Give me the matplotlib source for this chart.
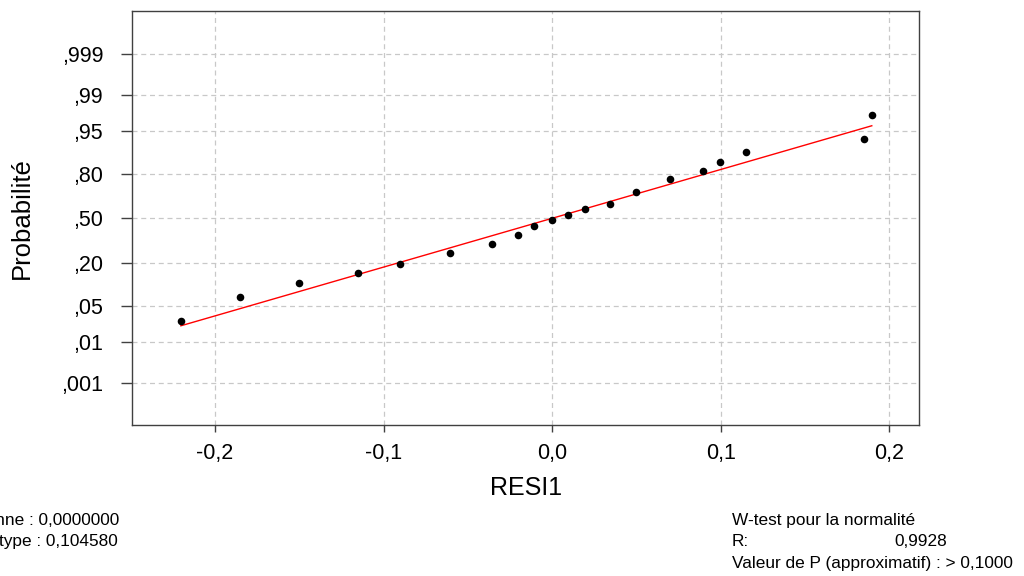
from statistics import NormalDist
import matplotlib
matplotlib.use('Agg')
import matplotlib.pyplot as plt

plt.rcParams['font.family'] = ['Liberation Sans', 'DejaVu Sans']

# residuals and their plotted probabilities
resid = [-0.2202, -0.1851, -0.1502, -0.1151, -0.0902, -0.0603, -0.0354, -0.0203,
         -0.0105, -0.0002, 0.0097, 0.0196, 0.0346, 0.0496, 0.0698, 0.0896,
         0.0998, 0.1149, 0.1849, 0.1896]
prob = [0.0268, 0.0696, 0.1109, 0.1519, 0.1936, 0.2589, 0.3166, 0.3790,
        0.4424, 0.4850, 0.5225, 0.5672, 0.6081, 0.6895, 0.7699, 0.8130,
        0.8538, 0.8927, 0.9327, 0.9742]

# fitted normal line
fit_mean = 0.0
fit_sd = 0.109

yticks_p = [0.001, 0.01, 0.05, 0.20, 0.50, 0.80, 0.95, 0.99, 0.999]
yticks_lab = [',001', ',01', ',05', ',20', ',50', ',80', ',95', ',99', ',999']
xticks = [-0.2, -0.1, 0.0, 0.1, 0.2]
xticks_lab = ['-0,2', '-0,1', '0,0', '0,1', '0,2']

left_text = ['Moyenne : 0,0000000', 'Ecart-type : 0,104580', 'N : 20']
right_title = 'W-test pour la normalité'
r_value = '0,9928'
p_text = 'Valeur de P (approximatif) : > 0,1000'

nd = NormalDist()
z = [nd.inv_cdf(p) for p in prob]

W, H = 1024, 576
fig = plt.figure(figsize=(10.24, 5.76), dpi=100)
ax = fig.add_axes([132.3 / W, 1 - 425 / H, (919 - 132.3) / W, (425 - 10.7) / H])

frame = '#404040'
ax.grid(True, color='#c8c8c8', linestyle=(0, (4, 3)), linewidth=0.9)
ax.set_axisbelow(True)

lx = [min(resid), max(resid)]
lz = [(v - fit_mean) / fit_sd for v in lx]
ax.plot(lx, lz, color='red', linewidth=1.0, zorder=2)
ax.scatter(resid, z, s=30, color='black', zorder=3, linewidths=0)

ax.set_xlim(-0.249, 0.2176)
ax.set_ylim(-3.885, 3.902)
ax.set_xticks(xticks)
ax.set_xticklabels(xticks_lab)
ax.set_yticks([nd.inv_cdf(p) for p in yticks_p])
ax.set_yticklabels(yticks_lab)

for s in ax.spines.values():
    s.set_color(frame)
    s.set_linewidth(1.0)
ax.tick_params(axis='y', direction='out', length=8, width=1, color=frame,
               pad=13, labelsize=15.5)
ax.tick_params(axis='x', direction='out', length=5, width=1, color=frame,
               pad=8, labelsize=15.5)

ax.set_xlabel('RESI1', fontsize=18)
ax.set_ylabel('Probabilité', fontsize=18.5)
ax.xaxis.set_label_coords(0.5, -0.152)
ax.xaxis.label.set_va('center')
ax.yaxis.set_label_coords(-0.140, 0.5)
ax.yaxis.label.set_va('center')

# bottom notes (the left block starts off the left edge, as in the original)
fs = 12.4
for i, t in enumerate(left_text):
    fig.text(-47 / W, 1 - (520 + 21.7 * i) / H, t, fontsize=fs, va='center', ha='left')
fig.text(731.7 / W, 1 - 520 / H, right_title, fontsize=fs, va='center', ha='left')
fig.text(731.7 / W, 1 - 541.7 / H, 'R:', fontsize=fs, va='center', ha='left')
fig.text(946.7 / W, 1 - 541.7 / H, r_value, fontsize=fs, va='center', ha='right')
fig.text(731.7 / W, 1 - 563.4 / H, p_text, fontsize=fs, va='center', ha='left')

fig.savefig('out.png', dpi=100)
